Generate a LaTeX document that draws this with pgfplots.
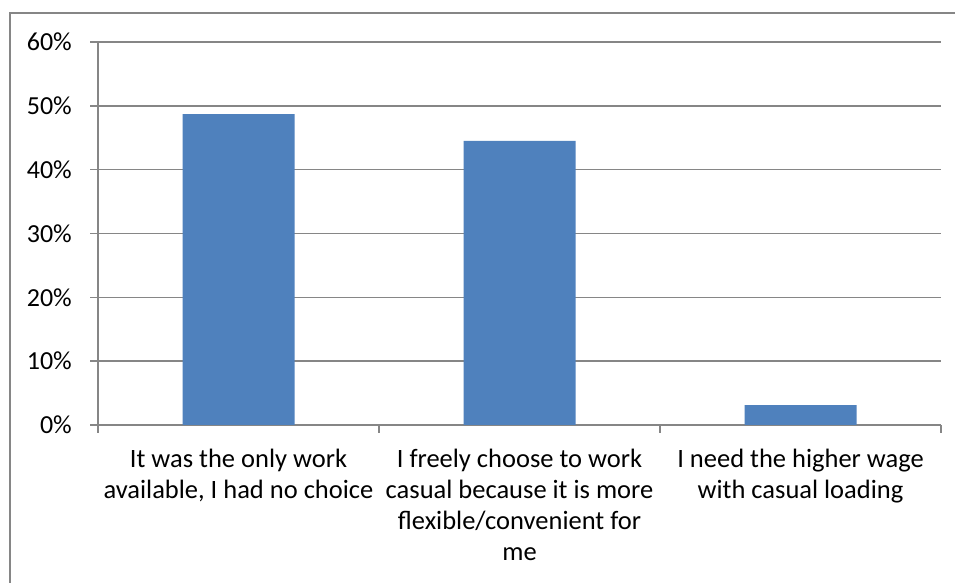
\documentclass[border=0pt]{standalone}
\usepackage{pgfplots}
\pgfplotsset{compat=1.18}
\usepackage{fontspec}
\setmainfont{Carlito}
\definecolor{barblue}{RGB}{79,129,189}
\definecolor{gridgray}{RGB}{134,134,134}
\begin{document}
\begin{tikzpicture}[x=1pt,y=1pt]
\fill[white] (0,0) rectangle (955,583);
\useasboundingbox (0,0) rectangle (955,583);
\draw[gridgray, line width=1.5pt] (10,0) -- (10,570) -- (955,570);
\begin{axis}[
  at={(98pt,158pt)}, anchor=south west,
  scale only axis, width=843pt, height=383pt,
  xmin=0.5, xmax=3.5, ymin=0, ymax=60,
  axis x line=bottom, axis y line=left,
  every outer x axis line/.append style={-},
  every outer y axis line/.append style={-},
  axis line style={gridgray, line width=1.5pt, -},
  ytick={0,10,20,30,40,50,60},
  yticklabels={0\%,10\%,20\%,30\%,40\%,50\%,60\%},
  ymajorgrids, major grid style={gridgray, line width=1.5pt},
  tick style={gridgray, line width=1.5pt},
  tick align=outside, major tick length=8pt,
  xtick={0.5,1.5,2.5,3.5}, xticklabels={},
  extra x ticks={1,2,3},
  extra x tick labels={{It was the only work\\available, I had no choice},{I freely choose to work\\casual because it is more\\flexible/convenient for\\me},{I need the higher wage\\with casual loading}},
  extra x tick style={major tick length=0pt, grid=none,
    xticklabel style={font=\fontsize{26.5}{31}\selectfont, align=center, anchor=north, inner sep=0pt, yshift=-23.5pt}},
  yticklabel style={font=\fontsize{26}{31}\selectfont, anchor=east, inner sep=0pt, xshift=-18pt},
]
\addplot[ybar, fill=barblue, draw=none, bar width=112pt] coordinates {(1,48.7)(2,44.5)(3,3.1)};
\end{axis}
\end{tikzpicture}
\end{document}
